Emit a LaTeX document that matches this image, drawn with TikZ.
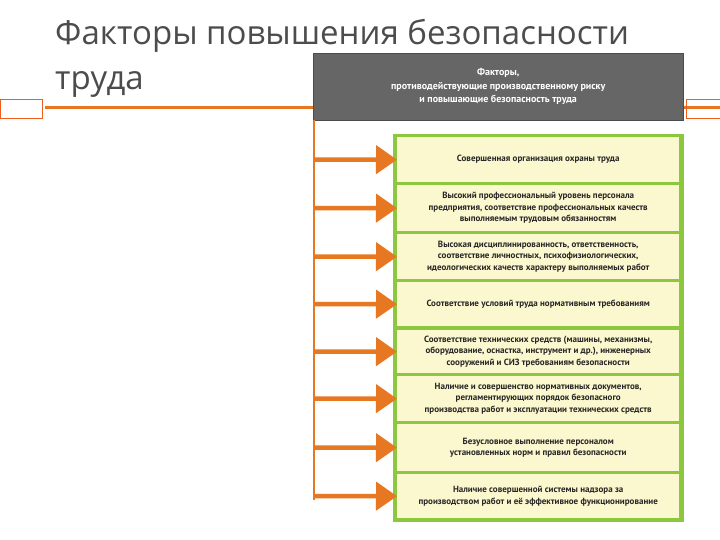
\documentclass[tikz,border=0pt]{standalone}
\usepackage{fontspec}
\setmainfont{PT Sans}
\newfontfamily\titlefont{Open Sans}
\begin{document}
\begin{tikzpicture}[x=1pt,y=-1pt,
  fbox/.style={fill=boxfill,minimum width=282,inner sep=0pt,align=center,font=\bfseries\fontsize{9}{11.5}\selectfont,text=black!85},
  arr/.style={draw=org,line width=4.5pt,-{Triangle[width=28pt,length=21pt]}}]
\usetikzlibrary{arrows.meta}
\definecolor{boxfill}{HTML}{FBF7CF}
\definecolor{grn}{HTML}{8DC63F}
\definecolor{org}{HTML}{E87722}
\path[use as bounding box] (0,0) rectangle (720,540);
\fill[white] (0,0) rectangle (720,540);
% decoration
\draw[org,line width=3pt] (45,108) -- (720,108);
\draw[org!80!red,line width=0.8pt] (0,99) rectangle (42,118);
\draw[org!80!red,line width=0.8pt] (686,99) rectangle (720,118);
\node[anchor=north west,align=left,font=\titlefont\fontsize{33}{45}\selectfont,text=black!70,inner sep=0pt] (title) at (55,19) {Факторы повышения безопасности\\труда};
% header
\node[fill=gray!80!black,draw=gray!60!black,minimum width=370,minimum height=67,anchor=north west,inner sep=0pt,align=center,text=white,font=\bfseries\fontsize{10}{13.5}\selectfont] (hdr) at (313,53) {Факторы,\\противодействующие производственному риску\\и повышающие безопасность труда};
\draw[org,line width=2pt] (hdr.south west) ++(1,0) coordinate (vtop) -- (314,500) coordinate (vbot);
% green frame
\fill[grn] (393,134) rectangle (684,522);
\foreach \yt/\yb/\n/\t in {
 137/182/1/{Совершенная организация охраны труда},
 185/231/2/{Высокий профессиональный уровень персонала\\предприятия, соответствие профессиональных качеств\\выполняемым трудовым обязанностям},
 234/279/3/{Высокая дисциплинированность, ответственность,\\соответствие личностных, психофизиологических,\\идеологических качеств характеру выполняемых работ},
 282/326/4/{Соответствие условий труда нормативным требованиям},
 330/373/5/{Соответствие технических средств (машины, механизмы,\\оборудование, оснастка, инструмент и др.), инженерных\\сооружений и СИЗ требованиям безопасности},
 376/421/6/{Наличие и совершенство нормативных документов,\\регламентирующих порядок безопасного\\производства работ и эксплуатации технических средств},
 424/471/7/{Безусловное выполнение персоналом\\установленных норм и правил безопасности},
 474/518/8/{Наличие совершенной системы надзора за\\производством работ и её эффективное функционирование}}
{
 \node[fbox,minimum height={\yb-\yt},anchor=north west] (b\n) at (397,\yt) {\t};
 \coordinate (s\n) at (314,{(\yt+\yb)/2});
 \draw[arr] (s\n) -- (b\n.west);
}
\end{tikzpicture}
\end{document}
